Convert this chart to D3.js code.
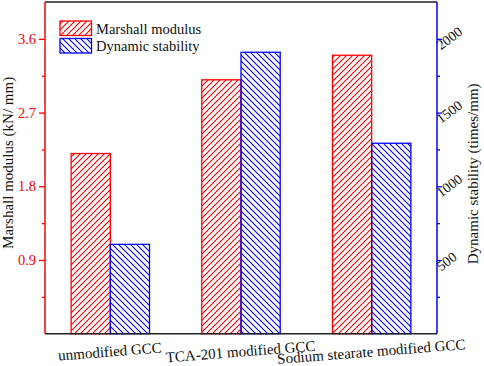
<!DOCTYPE html>
<html>
<head>
<meta charset="utf-8">
<script src="https://cdn.jsdelivr.net/npm/d3@7"></script>
<style>
  html, body { margin: 0; padding: 0; background: #fff; }
  svg { display: block; }
  svg text { font-family: "Liberation Serif", "Times New Roman", serif; }
</style>
</head>
<body>
<svg id="chart" width="484" height="366"></svg>
<script>
// ---- data ----
const categories = ["unmodified GCC", "TCA-201 modified GCC", "Sodium stearate modified GCC"];
const seriesNames = ["Marshall modulus", "Dynamic stability"];
const marshallModulus = [2.20, 3.10, 3.40];        // kN/mm (left axis)
const dynamicStability = [606, 1909, 1292];        // times/mm (right axis)
const leftTicks = [0.9, 1.8, 2.7, 3.6];
const leftMinorTicks = [0.45, 1.35, 2.25, 3.15];
const rightTicks = [500, 1000, 1500, 2000];
const rightMinorTicks = [250, 750, 1250, 1750];
const leftTitle = "Marshall modulus (kN/ mm)";
const rightTitle = "Dynamic stability (times/mm)";

// ---- layout ----
const svg = d3.select("#chart");
const L = 45, R = 437, T = 2, B = 333.7;
const RED = "#ff0000", BLUE = "#0000ff";

const x = d3.scaleBand().domain(categories).range([L, R]).paddingInner(0.4).paddingOuter(0.2);
const xs = d3.scaleBand().domain(seriesNames).range([0, x.bandwidth()]);
const yL = d3.scaleLinear().domain([0, 4.05]).range([B, T]);
const yR = d3.scaleLinear().domain([0, 2250]).range([B, T]);

// patterns
const defs = svg.append("defs");
function hatch(id, color, dir) {
  const p = defs.append("pattern").attr("id", id).attr("patternUnits", "userSpaceOnUse")
    .attr("width", 6).attr("height", 6);
  const d = dir > 0
    ? "M0,6 L6,0 M-1.5,1.5 L1.5,-1.5 M4.5,7.5 L7.5,4.5"
    : "M0,0 L6,6 M-1.5,4.5 L1.5,7.5 M4.5,-1.5 L7.5,1.5";
  p.append("path").attr("d", d).attr("stroke", color).attr("stroke-width", 1.1).attr("fill", "none");
}
hatch("hRed", RED, 1);
hatch("hBlue", BLUE, -1);

// bars
const gBars = svg.append("g");
gBars.selectAll("rect.m").data(categories).join("rect").attr("class", "m")
  .attr("x", d => x(d) + xs(seriesNames[0]))
  .attr("width", xs.bandwidth())
  .attr("y", (d, i) => yL(marshallModulus[i]))
  .attr("height", (d, i) => B - yL(marshallModulus[i]))
  .attr("fill", "url(#hRed)").attr("stroke", RED).attr("stroke-width", 1.3);
gBars.selectAll("rect.d").data(categories).join("rect").attr("class", "d")
  .attr("x", d => x(d) + xs(seriesNames[1]))
  .attr("width", xs.bandwidth())
  .attr("y", (d, i) => yR(dynamicStability[i]))
  .attr("height", (d, i) => B - yR(dynamicStability[i]))
  .attr("fill", "url(#hBlue)").attr("stroke", BLUE).attr("stroke-width", 1.3);

// frame: top and bottom
svg.append("line").attr("x1", L).attr("x2", R).attr("y1", T).attr("y2", T).attr("stroke", "#222").attr("stroke-width", 1.5);
svg.append("line").attr("x1", L).attr("x2", R).attr("y1", B).attr("y2", B).attr("stroke", "#222").attr("stroke-width", 1.5);

// left axis
const gL = svg.append("g").attr("transform", `translate(${L},0)`)
  .call(d3.axisLeft(yL).tickValues(leftTicks).tickFormat(d3.format(".1f")).tickSize(6).tickPadding(3));
gL.attr("font-family", null).attr("font-size", null);
gL.select(".domain").remove();
gL.selectAll(".tick line").attr("stroke", RED).attr("stroke-width", 1.3);
gL.selectAll(".tick text").attr("fill", RED).style("font-size", "14.5px");
svg.append("g").attr("transform", `translate(${L},0)`)
  .call(d3.axisLeft(yL).tickValues(leftMinorTicks).tickFormat("").tickSize(3))
  .call(g => g.select(".domain").remove())
  .selectAll(".tick line").attr("stroke", RED).attr("stroke-width", 1.3);
svg.append("line").attr("x1", L).attr("x2", L).attr("y1", T).attr("y2", B).attr("stroke", RED).attr("stroke-width", 1.5);

// right axis
const gR = svg.append("g").attr("transform", `translate(${R},0)`)
  .call(d3.axisRight(yR).tickValues(rightTicks).tickFormat(d3.format("d")).tickSize(5));
gR.attr("font-family", null).attr("font-size", null);
gR.select(".domain").remove();
gR.selectAll(".tick line").attr("stroke", BLUE).attr("stroke-width", 1.3);
gR.selectAll(".tick text")
  .attr("x", null).attr("dy", null)
  .attr("transform", "translate(4,11) rotate(-37)")
  .attr("text-anchor", "start")
  .attr("fill", "#111").style("font-size", "14px");
svg.append("g").attr("transform", `translate(${R},0)`)
  .call(d3.axisRight(yR).tickValues(rightMinorTicks).tickFormat("").tickSize(3))
  .call(g => g.select(".domain").remove())
  .selectAll(".tick line").attr("stroke", BLUE).attr("stroke-width", 1.3);
svg.append("line").attr("x1", R).attr("x2", R).attr("y1", T).attr("y2", B).attr("stroke", BLUE).attr("stroke-width", 1.5);

// x category labels (slightly rotated)
svg.append("g").selectAll("text").data(categories).join("text")
  .attr("transform", d => `translate(${x(d) + x.bandwidth() / 2},356.5) rotate(-4.5)`)
  .attr("text-anchor", "middle")
  .style("font-size", "15px").attr("fill", "#111")
  .text(d => d);

// axis titles
svg.append("text").attr("transform", `translate(13,${(T + B) / 2 - 5}) rotate(-90)`)
  .attr("text-anchor", "middle").style("font-size", "15px").attr("fill", "#111").text(leftTitle);
svg.append("text").attr("transform", `translate(478,${(T + B) / 2 + 6}) rotate(-90)`)
  .attr("text-anchor", "middle").style("font-size", "15px").attr("fill", "#111").text(rightTitle);

// legend
const lg = svg.append("g");
const legendFills = ["url(#hRed)", "url(#hBlue)"];
const legendStrokes = [RED, BLUE];
seriesNames.forEach((name, i) => {
  const y0 = 21 + i * 17.5;
  lg.append("rect").attr("x", 60).attr("y", y0).attr("width", 31.5).attr("height", 14.5)
    .attr("fill", legendFills[i]).attr("stroke", legendStrokes[i]).attr("stroke-width", 1.3);
  lg.append("text").attr("x", 96).attr("y", y0 + 12.5).style("font-size", "14.5px").attr("fill", "#111").text(name);
});
</script>
</body>
</html>
